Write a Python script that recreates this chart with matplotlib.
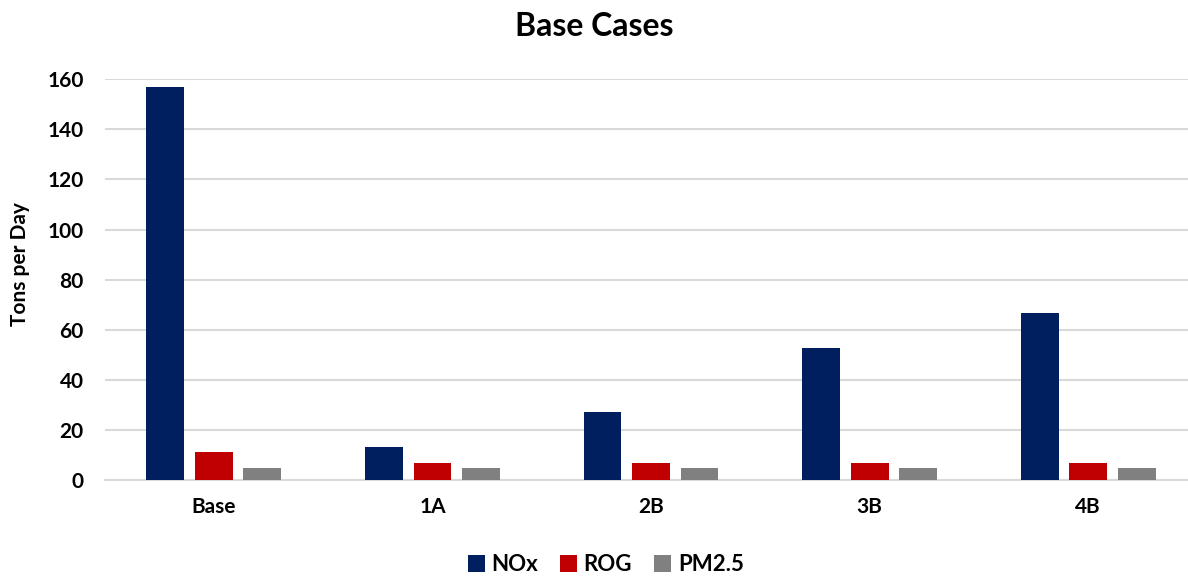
import numpy as np
import matplotlib
matplotlib.use("Agg")
import matplotlib.pyplot as plt

plt.rcParams['font.family'] = ['Lato', 'DejaVu Sans']

cases = ['Base', '1A', '2B', '3B', '4B']
nox = [157, 13.3, 27.4, 52.7, 66.9]
rog = [11.3, 7.0, 7.0, 7.0, 7.0]
pm25 = [5.0, 5.0, 5.0, 5.0, 5.0]

series = [('NOx', nox, '#001F5F'), ('ROG', rog, '#C00000'), ('PM2.5', pm25, '#808080')]

fig = plt.figure(figsize=(11.88, 5.78), dpi=100)
ax = fig.add_axes([0.088, 0.169, 0.92, 0.694])

x = np.arange(len(cases))
w = 0.173
step = 0.222
for i, (name, vals, col) in enumerate(series):
    ax.bar(x + (i - 1) * step, vals, width=w, color=col, label=name, zorder=3)

ax.set_xlim(-0.5, len(cases) - 0.5)
ax.set_ylim(0, 160)
ax.set_yticks(np.arange(0, 161, 20))
ax.set_xticks(x)
ax.set_xticklabels(cases)
ax.yaxis.grid(True, color='#D9D9D9', linewidth=1.5, zorder=0)
for s in ['top', 'right', 'left']:
    ax.spines[s].set_visible(False)
ax.spines['bottom'].set_color('#D9D9D9')
ax.spines['bottom'].set_linewidth(1.5)
ax.tick_params(length=0, labelsize=15)
ax.tick_params(axis='y', pad=15)
ax.tick_params(axis='x', pad=12)
for lbl in ax.get_xticklabels() + ax.get_yticklabels():
    lbl.set_fontweight('bold')

ax.set_ylabel('Tons per Day', fontsize=15, fontweight='bold')
ax.yaxis.set_label_coords(-0.068, 0.54)
fig.suptitle('Base Cases', fontsize=23, fontweight='bold', y=0.98)

leg = fig.legend(loc='lower center', bbox_to_anchor=(0.51, -0.03), ncol=3, frameon=False,
                 prop={'size': 16, 'weight': 'bold'}, handlelength=0.75, handleheight=0.75,
                 handletextpad=0.3, columnspacing=1.0)

fig.savefig('out.png', dpi=100)
